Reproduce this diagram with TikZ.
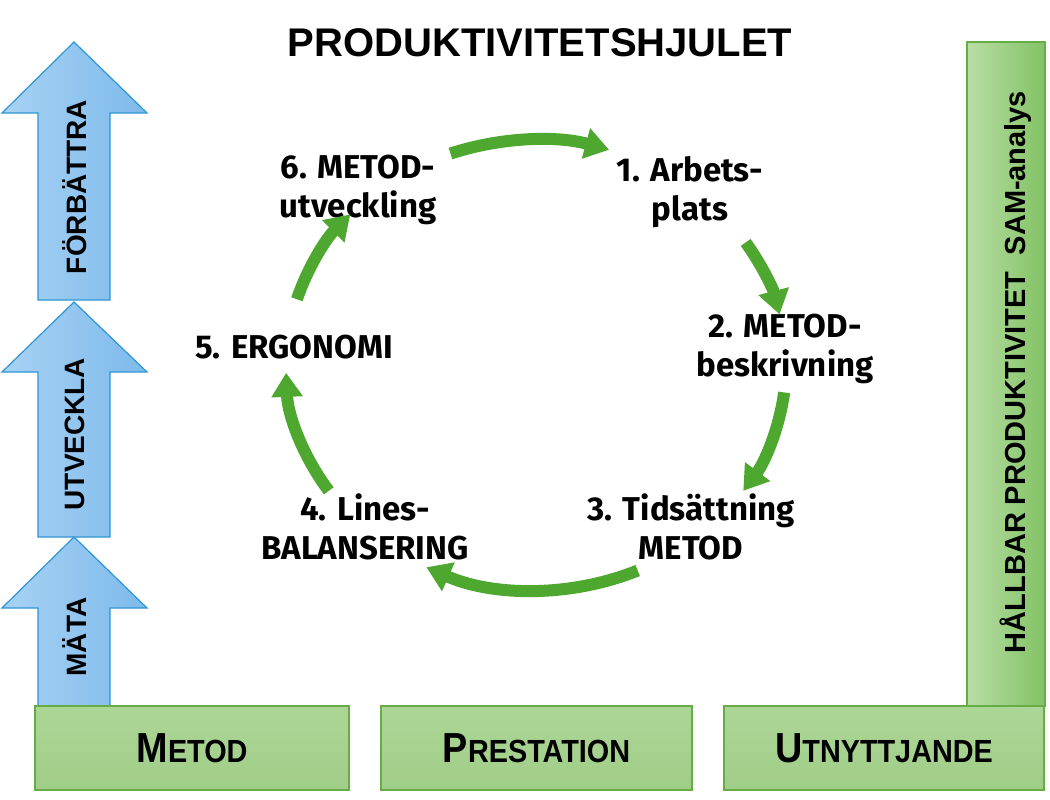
\documentclass[tikz,border=0pt]{standalone}
\usepackage{fontspec}
\setmainfont{Liberation Sans}
\newfontfamily\wheelfont{Fira Sans}
\newfontfamily\condfont[FakeStretch=0.9]{Liberation Sans}
\usetikzlibrary{arrows.meta}
\definecolor{wgreen}{RGB}{78,167,46}
\definecolor{boxfillA}{RGB}{172,214,150}
\definecolor{boxfillB}{RGB}{160,205,136}
\definecolor{barA}{RGB}{185,222,166}
\definecolor{barB}{RGB}{130,194,100}
\definecolor{boxline}{RGB}{104,172,72}
\definecolor{blueline}{RGB}{46,150,212}
\definecolor{bluefillA}{RGB}{168,210,243}
\definecolor{bluefillB}{RGB}{125,186,236}
\begin{document}
\begin{tikzpicture}[x=1pt,y=-1pt,
  bluearrow/.style={draw=blueline, line width=1.2pt, left color=bluefillA, right color=bluefillB},
  greenbox/.style={draw=boxline, line width=1.2pt, top color=boxfillA, bottom color=boxfillB, inner sep=0pt},
  wheelarrow/.style={draw=wgreen, line width=12pt, -{Triangle[width=30pt,length=24pt]}},
  wlabel/.style={font=\wheelfont\bfseries\fontsize{33}{39}\selectfont, align=center, inner sep=0pt},
  arrowlabel/.style={rotate=90, font=\bfseries\fontsize{28}{28}\selectfont, inner sep=0pt},
  boxlabel/.style={font=\condfont\bfseries},
  ellipse radii/.style={x radius=250, y radius=225}
]
\useasboundingbox (0,0) rectangle (1050,800);
\fill[white] (0,0) rectangle (1050,800);

% title
\node[font=\bfseries\fontsize{40}{40}\selectfont, inner sep=0pt] (title) at (540,43) {PRODUKTIVITETSHJULET};

% left block arrows
\path[bluearrow] (38,706) -- (38,608) -- (2,608) -- (74,537) -- (147,608) -- (110,608) -- (110,706) -- cycle;
\path[bluearrow] (38,537) -- (38,372) -- (2,372) -- (74,302) -- (147,372) -- (110,372) -- (110,537) -- cycle;
\path[bluearrow] (38,300) -- (38,113) -- (2,113) -- (74,42) -- (147,113) -- (110,113) -- (110,300) -- cycle;
\node[arrowlabel] (forb) at (75,187) {FÖRBÄTTRA};
\node[arrowlabel] (utv) at (75,434) {UTVECKLA};
\node[arrowlabel] (mata) at (75,637) {MÄTA};

% right bar
\path[draw=boxline, line width=1.2pt, left color=barA, right color=barB] (967,42) rectangle (1045,706);
\node[rotate=90, font=\bfseries\fontsize{29}{29}\selectfont, inner sep=0pt] (hall) at (1016,372) {HÅLLBAR PRODUKTIVITET\ \ SAM-analys};

% bottom boxes
\node[greenbox, minimum width=314, minimum height=84] (metod) at (192,748)
  {\condfont\bfseries\fontsize{42}{42}\selectfont M\fontsize{32}{32}\selectfont ETOD};
\node[greenbox, minimum width=311, minimum height=84] (prest) at (536.5,748)
  {\condfont\bfseries\fontsize{42}{42}\selectfont P\fontsize{32}{32}\selectfont RESTATION};
\node[greenbox, minimum width=320, minimum height=84] (utn) at (884,748)
  {\condfont\bfseries\fontsize{42}{42}\selectfont U\fontsize{32}{32}\selectfont TNYTTJANDE};

% wheel labels
\node[wlabel] (l1) at (690,192) {1. Arbets-\\plats};
\node[wlabel] (l2) at (785,349) {2. METOD-\\beskrivning};
\node[wlabel] (l3) at (691,527) {3. Tidsättning\\METOD};
\node[wlabel] (l4) at (365,527) {4. Lines-\\BALANSERING};
\node[wlabel] (l5) at (294,347) {5. ERGONOMI};
\node[wlabel] (l6) at (358,190) {6. METOD-\\utveckling};

% wheel arrows
\coordinate (c) at (536,365);
\path (c) ++(-110:250 and 225) coordinate (s1);
\path (c) ++(-33:250 and 225) coordinate (s2);
\path (c) ++(7:250 and 225) coordinate (s3);
\path (c) ++(66:250 and 225) coordinate (s4);
\path (c) ++(146:250 and 225) coordinate (s5);
\path (c) ++(-163:250 and 225) coordinate (s6);
\draw[wheelarrow] (s1) arc[start angle=-110, end angle=-73, ellipse radii];
\draw[wheelarrow] (s2) arc[start angle=-33, end angle=-13, ellipse radii];
\draw[wheelarrow] (s3) arc[start angle=7, end angle=34, ellipse radii];
\draw[wheelarrow] (s4) arc[start angle=66, end angle=116, ellipse radii];
\draw[wheelarrow] (s5) arc[start angle=146, end angle=178, ellipse radii];
\draw[wheelarrow] (s6) arc[start angle=-163, end angle=-138, ellipse radii];
\end{tikzpicture}
\end{document}
